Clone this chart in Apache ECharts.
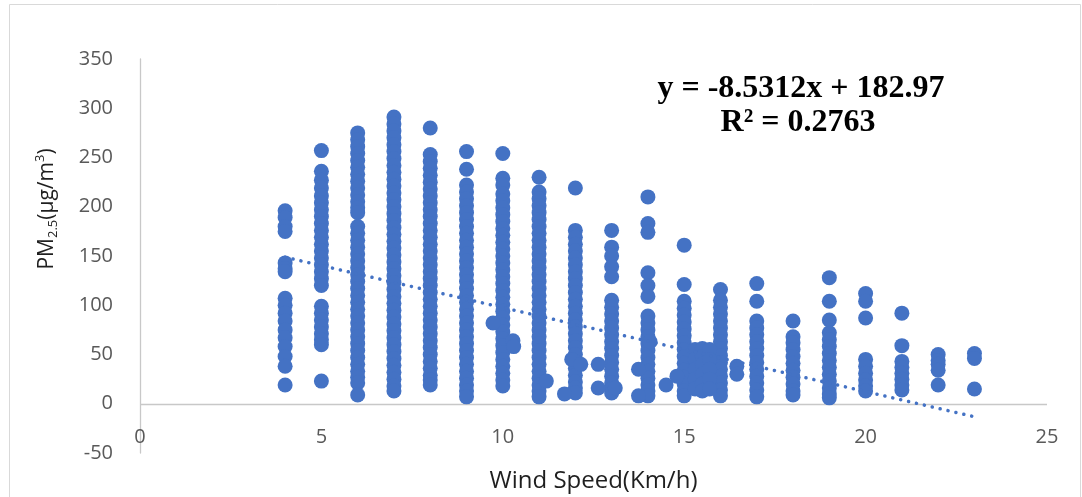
<!DOCTYPE html>
<html>
<head>
<meta charset="utf-8">
<script src="https://cdn.jsdelivr.net/npm/echarts@6/dist/echarts.min.js"></script>
<style>
html,body{margin:0;padding:0;background:#fff;}
#chart{width:1082px;height:497px;}
</style>
</head>
<body>
<div id="chart"></div>
<script>
// ---- data ----
const xTicks = [0, 5, 10, 15, 20, 25];
const yTicks = [-50, 0, 50, 100, 150, 200, 250, 300, 350];
const xTitle = 'Wind Speed(Km/h)';
const equationText = 'y = -8.5312x + 182.97';
const r2Text = 'R\u00B2 = 0.2763';

const pm04 = [196, 189, 180, 175, 143, 137, 134, 107, 100, 92, 84, 75, 67, 58, 48, 38, 19];
const pm05 = [257, 236, 227, 219, 211, 204, 197, 190, 183, 176, 169, 162, 155, 148, 141, 134, 127, 120, 99, 92, 85, 78, 71, 65, 60, 23];
const pm06 = [275, 268, 261, 254, 247, 240, 233, 226, 219, 212, 205, 199, 194, 180, 173, 166, 159, 152, 145, 138, 131, 124, 117, 110, 103, 96, 89, 82, 75, 68, 61, 54, 47, 40, 33, 27, 21, 9];
const pm07 = [291, 284, 277, 270, 263, 256, 249, 242, 235, 228, 221, 214, 207, 200, 193, 186, 179, 172, 165, 158, 151, 144, 137, 130, 123, 116, 109, 102, 95, 88, 81, 74, 67, 60, 53, 46, 39, 32, 25, 18, 13];
const pm08 = [280, 253, 246, 239, 232, 225, 218, 211, 204, 197, 190, 183, 176, 169, 162, 155, 148, 141, 134, 127, 120, 113, 106, 99, 92, 85, 78, 71, 64, 57, 50, 43, 36, 29, 24, 19];
const pm09 = [256, 238, 222, 215, 208, 201, 194, 187, 180, 173, 166, 159, 152, 145, 138, 131, 124, 117, 110, 103, 96, 89, 82, 75, 68, 61, 54, 47, 40, 33, 26, 19, 13, 7];
const pm10 = [254, 229, 222, 213, 206, 199, 192, 185, 178, 171, 164, 157, 150, 143, 136, 129, 122, 115, 108, 101, 94, 87, 80, 73, 66, 59, 52, 45, 38, 31, 24, 18];
const pm11 = [230, 215, 208, 201, 194, 187, 180, 173, 166, 159, 152, 145, 138, 131, 124, 117, 110, 103, 96, 89, 82, 75, 68, 61, 54, 47, 40, 33, 26, 19, 13, 7];
const pm12 = [219, 176, 169, 162, 155, 148, 141, 134, 127, 120, 113, 106, 99, 92, 85, 78, 71, 64, 57, 50, 43, 36, 29, 22, 16, 11];
const pm13 = [176, 159, 150, 139, 129, 105, 98, 91, 84, 77, 70, 63, 56, 49, 42, 35, 28, 21, 15, 11];
const pm14 = [210, 183, 174, 133, 120, 109, 89, 82, 75, 68, 61, 54, 47, 40, 33, 26, 19, 13, 8];
const pm15 = [161, 121, 104, 97, 90, 83, 76, 69, 62, 55, 48, 41, 34, 27, 20, 13, 8];
const pm16 = [116, 105, 98, 91, 84, 77, 70, 63, 56, 49, 42, 35, 28, 21, 14, 8];
const pm17 = [122, 104, 84, 77, 70, 63, 56, 49, 42, 35, 28, 21, 14, 7];
const pm18 = [84, 68, 62, 55, 48, 41, 34, 27, 20, 13, 9];
const pm19 = [128, 104, 85, 72, 65, 58, 51, 44, 37, 30, 23, 16, 10, 6];
const pm20 = [112, 104, 87, 45, 38, 31, 24, 18, 13];
const pm21 = [92, 59, 43, 37, 31, 25, 19, 14];
const pm22 = [50, 44, 40, 34, 19];
const pm23 = [51, 46, 15];

// points lying between the integer wind speeds: [speed, pm]
const offColumn = [
  [9.73, 82], [10.28, 64], [10.3, 58], [11.2, 23],
  [11.7, 10], [11.9, 45], [12.15, 40],
  [12.63, 40], [12.63, 16], [13.1, 16],
  [13.74, 35], [13.74, 8], [14.06, 63],
  [14.5, 19], [14.8, 28],
  [15.3, 55], [15.3, 45], [15.3, 35], [15.3, 25], [15.3, 15],
  [15.5, 56], [15.5, 48], [15.5, 40], [15.5, 30], [15.5, 20], [15.5, 13],
  [15.7, 55], [15.7, 45], [15.7, 35], [15.7, 25], [15.7, 15],
  [16.45, 38], [16.45, 30]
];

const trendX = [4, 23];
const trendY = [148.8, -13.2];

// ---- build ----
const columns = [
  [4, pm04], [5, pm05], [6, pm06], [7, pm07], [8, pm08], [9, pm09], [10, pm10],
  [11, pm11], [12, pm12], [13, pm13], [14, pm14], [15, pm15], [16, pm16],
  [17, pm17], [18, pm18], [19, pm19], [20, pm20], [21, pm21], [22, pm22], [23, pm23]
];
const scatterData = [];
columns.forEach(([x, arr]) => arr.forEach(v => scatterData.push([x, v])));
offColumn.forEach(p => scatterData.push(p));
const trendData = trendX.map((x, i) => [x, trendY[i]]);

const BLUE = '#4472C4';
const AXIS_GRAY = '#c8c8c8';
const chart = echarts.init(document.getElementById('chart'), null, {renderer: 'canvas'});
chart.setOption({
  animation: false,
  backgroundColor: '#fff',
  grid: {left: 140, right: 35, top: 59, bottom: 44, containLabel: false, outerBoundsMode: 'none'},
  xAxis: {
    type: 'value', min: xTicks[0], max: xTicks[xTicks.length - 1], interval: 5,
    axisLine: {show: false, onZero: false},
    axisTick: {show: false},
    splitLine: {show: false},
    axisLabel: {color: '#595959', fontSize: 20, fontFamily: 'Open Sans', margin: -26},
    name: xTitle, nameLocation: 'middle', nameGap: 16,
    nameTextStyle: {color: '#1f1f1f', fontSize: 24, fontFamily: 'Open Sans'}
  },
  yAxis: {
    type: 'value', min: yTicks[0], max: yTicks[yTicks.length - 1], interval: 50,
    axisLine: {show: true, onZero: false, lineStyle: {color: AXIS_GRAY, width: 1.3}},
    axisTick: {show: false},
    splitLine: {show: false},
    axisLabel: {color: '#595959', fontSize: 20, fontFamily: 'Open Sans', margin: 27}
  },
  series: [
    {
      type: 'scatter', data: scatterData, symbolSize: 15,
      itemStyle: {color: BLUE, opacity: 1}, z: 2,
      markLine: {
        silent: true, symbol: 'none', label: {show: false}, z: 1,
        lineStyle: {color: AXIS_GRAY, width: 1.3, type: 'solid'},
        data: [{yAxis: 0}]
      }
    },
    {
      type: 'line', data: trendData, showSymbol: false, symbol: 'none',
      lineStyle: {color: BLUE, width: 3.5, type: [0.1, 8], cap: 'round'}, z: 3,
      silent: true
    }
  ],
  graphic: [
    {
      type: 'rect', left: 7, top: 2, z: -10,
      shape: {width: 1071, height: 493},
      style: {fill: 'none', stroke: '#d9d9d9', lineWidth: 1}
    },
    {
      type: 'text', x: 47, y: 209, rotation: Math.PI / 2,
      style: {
        text: '{a|PM}{s|2.5}{a|(\u00B5g/m}{p|3}{a|)}',
        align: 'center', verticalAlign: 'middle',
        rich: {
          a: {fontSize: 21, fontFamily: 'Open Sans', fill: '#1f1f1f', lineHeight: 26},
          s: {fontSize: 13, fontFamily: 'Open Sans', fill: '#1f1f1f', lineHeight: 13, verticalAlign: 'bottom'},
          p: {fontSize: 13, fontFamily: 'Open Sans', fill: '#1f1f1f', lineHeight: 13, verticalAlign: 'top'}
        }
      }
    },
    {
      type: 'text', x: 801, y: 89,
      style: {text: equationText, align: 'center', verticalAlign: 'middle',
        font: 'bold 32px "Liberation Serif"', fill: '#000'}
    },
    {
      type: 'text', x: 798, y: 123,
      style: {text: r2Text, align: 'center', verticalAlign: 'middle',
        font: 'bold 32px "Liberation Serif"', fill: '#000'}
    }
  ]
});
</script>
</body>
</html>
